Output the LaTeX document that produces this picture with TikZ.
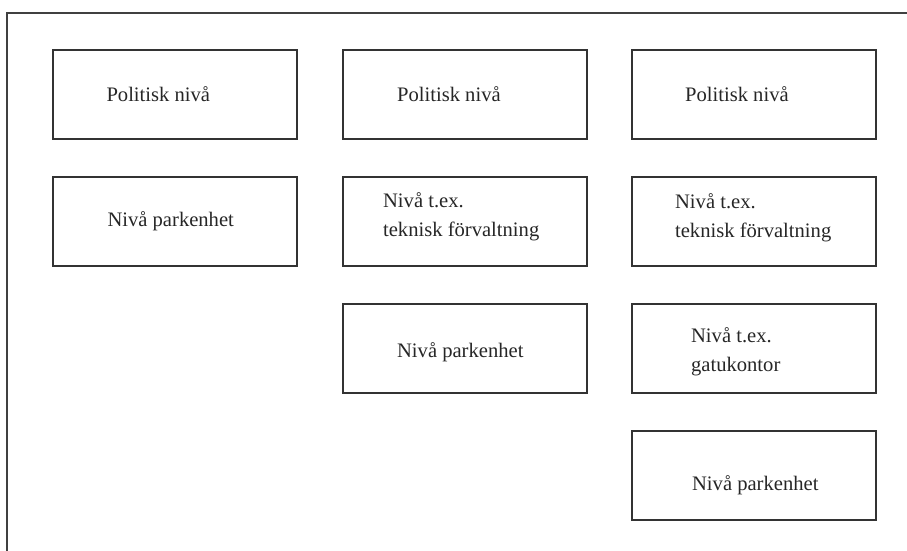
\documentclass[tikz,border=0pt]{standalone}
\usepackage{fontspec}
\setmainfont{Liberation Serif}
\usetikzlibrary{positioning}
\begin{document}
\begin{tikzpicture}[
    x=0.5pt, y=-0.5pt,
    box/.style={rectangle, draw=black!80, line width=0.9pt, minimum width=122pt, minimum height=44.5pt, inner sep=0pt},
    txt/.style={anchor=west, align=left, inner sep=0pt, text=black!85, font=\fontsize{10.3}{14.5}\selectfont},
    frame/.style={draw=black!75, line width=1pt}
]
    \useasboundingbox (0,0) rectangle (907,551);

    % Frame (top and left side only)
    \draw[frame] (907,13) -- (7,13) -- (7,551);

    % Column 1
    \node[box] (pol1) at (175,94.5) {};
    \node[box, below=18.1pt of pol1] (park1) {};

    % Column 2
    \node[box, right=21.9pt of pol1] (pol2) {};
    \node[box, below=18.1pt of pol2] (tek2) {};
    \node[box, below=18.1pt of tek2] (park2) {};

    % Column 3
    \node[box, right=21.6pt of pol2] (pol3) {};
    \node[box, below=18.1pt of pol3] (tek3) {};
    \node[box, below=18.1pt of tek3] (gata3) {};
    \node[box, below=18.1pt of gata3] (park3) {};

    % Texts
    \node[txt] (pol1txt) at ([xshift=27pt]pol1.west) {Politisk nivå};
    \node[txt] (park1txt) at ([xshift=27.5pt]park1.west) {Nivå parkenhet};
    \node[txt] (pol2txt) at ([xshift=27.5pt]pol2.west) {Politisk nivå};
    \node[txt] (tek2txt) at ([xshift=20.5pt, yshift=2.25pt]tek2.west) {Nivå t.ex.\\teknisk förvaltning};
    \node[txt] (park2txt) at ([xshift=27.5pt, yshift=-2pt]park2.west) {Nivå parkenhet};
    \node[txt] (pol3txt) at ([xshift=27pt]pol3.west) {Politisk nivå};
    \node[txt] (tek3txt) at ([xshift=22pt, yshift=2pt]tek3.west) {Nivå t.ex.\\teknisk förvaltning};
    \node[txt] (gata3txt) at ([xshift=30pt, yshift=-1.5pt]gata3.west) {Nivå t.ex.\\gatukontor};
    \node[txt] (park3txt) at ([xshift=30.5pt, yshift=-4.75pt]park3.west) {Nivå parkenhet};

\end{tikzpicture}
\end{document}
